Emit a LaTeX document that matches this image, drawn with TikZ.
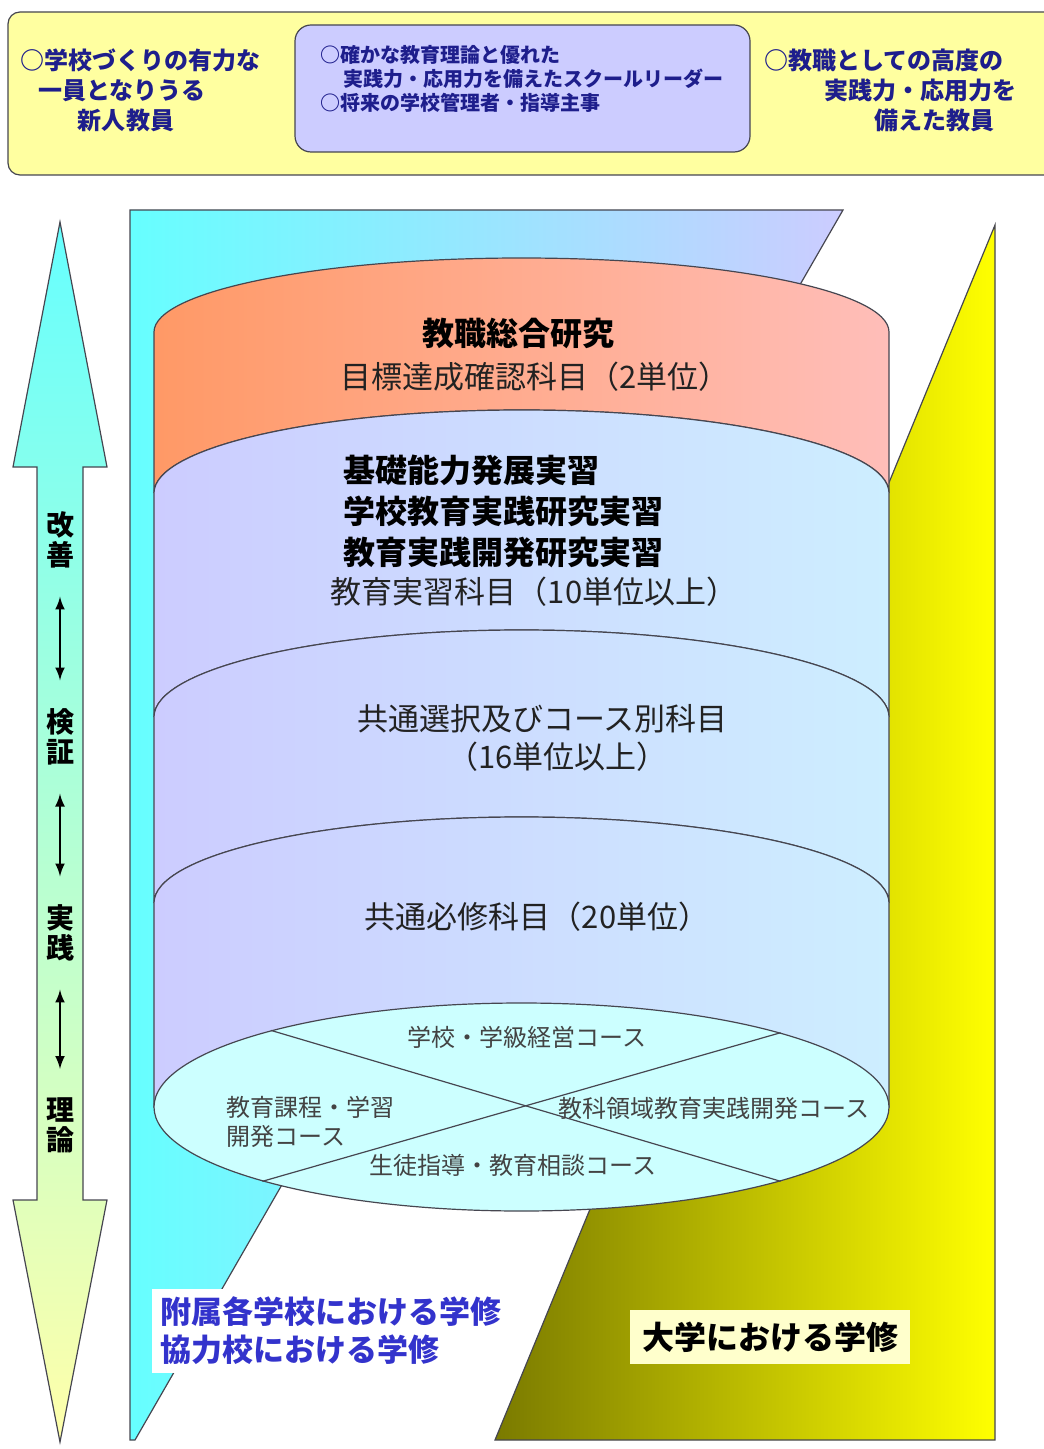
\documentclass[tikz,border=0pt]{standalone}
\usepackage{fontspec}
\setmainfont{Noto Sans CJK JP}
\usetikzlibrary{arrows,shapes.geometric}

\definecolor{paleyellow}{RGB}{255,255,160}
\definecolor{lavender}{RGB}{204,204,255}
\definecolor{aqua}{RGB}{102,255,255}
\definecolor{goalblue}{RGB}{30,30,140}
\definecolor{salmon}{RGB}{255,153,102}
\definecolor{blush}{RGB}{255,190,185}
\definecolor{iceblue}{RGB}{205,238,255}
\definecolor{palecyan}{RGB}{204,255,255}
\definecolor{olivedark}{RGB}{122,122,0}
\definecolor{lemon}{RGB}{255,255,170}
\definecolor{studyblue}{RGB}{51,51,204}
\definecolor{cream}{RGB}{255,255,204}
\definecolor{edge}{RGB}{70,70,80}
\definecolor{ink}{RGB}{34,34,34}

\begin{document}
\begin{tikzpicture}[x=0.5pt,y=-0.5pt,
  outline/.style={draw=edge,line width=0.6pt},
  goaltext/.style={text=goalblue,font=\fontsize{12}{15}\selectfont\bfseries,align=left,anchor=west,inner sep=0pt},
  leadertext/.style={goaltext,font=\fontsize{10}{12}\selectfont\bfseries},
  bandtitle/.style={text=black,font=\fontsize{16}{20.5}\selectfont\bfseries,inner sep=0pt},
  bandtext/.style={text=ink,font=\fontsize{15.5}{19}\selectfont,inner sep=0pt},
  coursetext/.style={text=ink!85,font=\fontsize{12}{14.5}\selectfont,inner sep=0pt},
  cyclelabel/.style={font=\fontsize{14}{15}\selectfont\bfseries,align=center,inner sep=0pt},
  cyclearrow/.style={latex-latex,line width=1.2pt,shorten <=14pt,shorten >=14pt}]
\useasboundingbox (0,0) rectangle (1043,1449);

\draw[outline,fill=paleyellow,rounded corners=6pt] (8,12) rectangle (1070,175);
\draw[outline,fill=lavender,rounded corners=8pt] (295,25) rectangle (750,152);

\node[goaltext] (newteacher) at (20,90) {○学校づくりの有力な\\\hspace*{0.75em}一員となりうる\\\hspace*{2.4em}新人教員};
\node[leadertext] (leader) at (320,79) {○確かな教育理論と優れた\\\hspace*{1.15em}実践力・応用力を備えたスクールリーダー\\○将来の学校管理者・指導主事};
\node[goaltext] (advanced) at (764,90) {○教職としての高度の\\\hspace*{2.5em}実践力・応用力を\\\hspace*{4.6em}備えた教員};

\shadedraw[outline,left color=aqua,right color=lavender] (130,210) -- (843,210) -- (135,1440) -- (130,1440) -- cycle;
\shadedraw[outline,left color=olivedark,middle color=yellow!85!olivedark,right color=yellow] (995,225) -- (995,1440) -- (495,1440) -- cycle;

\coordinate (s1l) at (154,332);
\coordinate (s2l) at (154,493);
\coordinate (s2r) at (889,493);
\coordinate (s3l) at (154,717);
\coordinate (s3r) at (889,717);
\coordinate (s4l) at (154,903);
\coordinate (s4r) at (889,903);
\coordinate (s5l) at (154,1107);
\coordinate (s5r) at (889,1107);

\shadedraw[outline,left color=salmon,right color=blush] (s1l) arc[start angle=180,end angle=0,x radius=183.75pt,y radius=37pt] -- (s2r) arc[start angle=0,end angle=180,x radius=183.75pt,y radius=41.5pt] -- cycle;
\shadedraw[outline,left color=lavender,right color=iceblue] (s2l) arc[start angle=180,end angle=0,x radius=183.75pt,y radius=41.5pt] -- (s3r) arc[start angle=0,end angle=180,x radius=183.75pt,y radius=43.5pt] -- cycle;
\shadedraw[outline,left color=lavender,right color=iceblue] (s3l) arc[start angle=180,end angle=0,x radius=183.75pt,y radius=43.5pt] -- (s4r) arc[start angle=0,end angle=180,x radius=183.75pt,y radius=43pt] -- cycle;
\shadedraw[outline,left color=lavender,right color=iceblue] (s4l) arc[start angle=180,end angle=0,x radius=183.75pt,y radius=43pt] -- (s5r) -- (s5l) -- cycle;

\node[ellipse,outline,fill=palecyan,minimum width=367.5pt,minimum height=104pt,inner sep=0pt] (courses) at (521.5,1107) {};
\draw[outline] (courses.163.7) -- (courses.-16.3);
\draw[outline] (courses.16.3) -- (courses.196.3);

\node[bandtitle] (synthesis) at (518,333) {教職総合研究};
\node[bandtext] (synthesissub) at (535,377) {目標達成確認科目（2単位）};
\node[bandtitle,anchor=west,align=left] (practice) at (343,511) {基礎能力発展実習\\学校教育実践研究実習\\教育実践開発研究実習};
\node[bandtext] (practicesub) at (534,592) {教育実習科目（10単位以上）};
\node[bandtext,anchor=west,align=left] (elective) at (357,738) {共通選択及びコース別科目\\\hspace*{2.9em}（16単位以上）};
\node[bandtext] (required) at (537,917) {共通必修科目（20単位）};

\node[coursetext] (management) at (527,1037) {学校・学級経営コース};
\node[coursetext,anchor=west,align=left] (curriculum) at (226,1122) {教育課程・学習\\開発コース};
\node[coursetext] (subject) at (714,1108) {教科領域教育実践開発コース};
\node[coursetext] (guidance) at (513,1165) {生徒指導・教育相談コース};

\shadedraw[outline,top color=aqua,bottom color=lemon] (60,222) -- (107,467) -- (83,467) -- (83,1200) -- (107,1200) -- (60,1442) -- (13,1200) -- (37,1200) -- (37,467) -- (13,467) -- cycle;

\node[cyclelabel] (kaizen) at (60,540) {改\\善};
\node[cyclelabel] (kensho) at (60,737) {検\\証};
\node[cyclelabel] (jissen) at (60,933) {実\\践};
\node[cyclelabel] (riron) at (60,1125) {理\\論};
\draw[cyclearrow] (kaizen) -- (kensho);
\draw[cyclearrow] (kensho) -- (jissen);
\draw[cyclearrow] (jissen) -- (riron);

\node[anchor=west,fill=white,inner sep=4pt,text=studyblue,font=\fontsize{15.5}{19}\selectfont\bfseries,align=left] (schools) at (152,1331) {附属各学校における学修\\協力校における学修};
\node[fill=cream,inner sep=6pt,font=\fontsize{16}{19}\selectfont\bfseries] (university) at (770,1337) {大学における学修};

\end{tikzpicture}
\end{document}
